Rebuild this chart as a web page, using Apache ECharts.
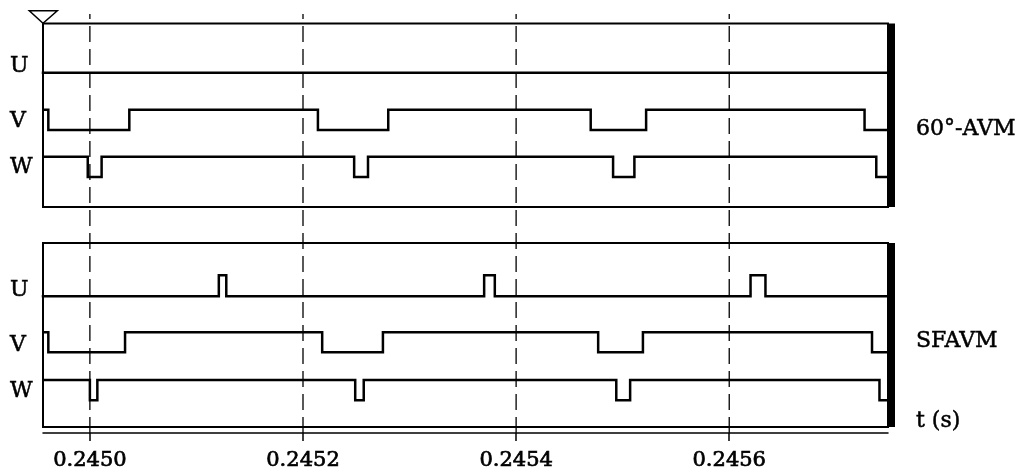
<!DOCTYPE html>
<html>
<head>
<meta charset="utf-8">
<script src="https://cdn.jsdelivr.net/npm/echarts@6/dist/echarts.min.js"></script>
<style>html,body{margin:0;padding:0;background:#fff}#c{width:1019px;height:472px}</style>
</head>
<body>
<div id="c"></div>
<script>
// ---- data (time in s, logic level 0/1) ----
const tMin = 0.244956;
const tMax = 0.245749;
const tickValues = [0.2450, 0.2452, 0.2454, 0.2456];
const laneNames = ['U', 'V', 'W'];
const panelNames = ['60°-AVM', 'SFAVM'];
const axisName = 't (s)';

// 60°-AVM
const avmU = [[0.244956,0],[0.245749,0]];
const avmV = [[0.244958,1],[0.244961,0],[0.245037,1],[0.245214,0],[0.245280,1],[0.245470,0],[0.245522,1],[0.245727,0],[0.245749,0]];
const avmW = [[0.244958,1],[0.244998,0],[0.245011,1],[0.245248,0],[0.245261,1],[0.245491,0],[0.245511,1],[0.245738,0],[0.245749,0]];
// SFAVM
const sfU = [[0.244956,0],[0.245121,1],[0.245128,0],[0.245370,1],[0.245380,0],[0.245620,1],[0.245634,0],[0.245749,0]];
const sfV = [[0.244958,1],[0.244961,0],[0.245033,1],[0.245218,0],[0.245275,1],[0.245477,0],[0.245519,1],[0.245734,0],[0.245749,0]];
const sfW = [[0.244958,1],[0.245000,0],[0.245007,1],[0.245249,0],[0.245257,1],[0.245494,0],[0.245507,1],[0.245741,0],[0.245749,0]];

// ---- layout ----
const CW = 1019, CH = 472;
const L = 43, R = 888;
const FONT = 'DejaVu Serif';
const FS = 22;
const frames = [{top: 23.5, height: 183.5}, {top: 243, height: 184}];
const lanes = [
  {top: 52.5, height: 20.3}, {top: 109.7, height: 20.3}, {top: 156.7, height: 20.3},
  {top: 275.3, height: 21}, {top: 332.3, height: 20}, {top: 380, height: 20.3}
];
const laneLabelY = [66, 121, 167, 290, 345, 391];
const signals = [avmU, avmV, avmW, sfU, sfV, sfW];

const grid = [], xAxis = [], yAxis = [], series = [];
// 0: background grid with axis + dashed lines
grid.push({left: L, right: CW - R, top: 14, bottom: CH - 433, show: false});
xAxis.push({
  gridIndex: 0, type: 'value', min: tMin, max: tMax, position: 'bottom',
  axisLine: {show: true, onZero: false, lineStyle: {color: '#000', width: 1.5}},
  axisTick: {show: true, length: 8, customValues: tickValues, lineStyle: {color: '#000', width: 1.5}},
  axisLabel: {show: true, customValues: tickValues, margin: 17, color: '#000', fontFamily: FONT, fontSize: FS - 1,
    textBorderColor: '#000', textBorderWidth: 0.7,
    formatter: v => v.toFixed(4)},
  splitLine: {show: false}
});
yAxis.push({gridIndex: 0, type: 'value', min: 0, max: 1, show: false});
tickValues.forEach(v => {
  series.push({
    type: 'line', xAxisIndex: 0, yAxisIndex: 0, data: [[v, 0], [v, 1]], symbol: 'none',
    silent: true, z: 5, clip: false,
    lineStyle: {type: [16, 7], color: '#000', width: 1.3}
  });
});
// frames
frames.forEach(f => {
  const gi = grid.length;
  grid.push({left: L, right: CW - R, top: f.top, height: f.height, show: true, borderColor: '#000', borderWidth: 2, backgroundColor: 'transparent'});
  xAxis.push({gridIndex: gi, type: 'value', min: tMin, max: tMax, show: false});
  yAxis.push({gridIndex: gi, type: 'value', min: 0, max: 1, show: false});
});
// lanes
lanes.forEach((ln, i) => {
  const gi = grid.length;
  grid.push({left: L, right: CW - R, top: ln.top, height: ln.height, show: false});
  xAxis.push({gridIndex: gi, type: 'value', min: tMin, max: tMax, show: false});
  yAxis.push({gridIndex: gi, type: 'value', min: 0, max: 1, show: false});
  series.push({
    type: 'line', xAxisIndex: gi, yAxisIndex: gi, data: signals[i], step: 'end',
    symbol: 'none', clip: false, silent: true, z: 3,
    lineStyle: {color: '#000', width: 2.5, join: 'miter', cap: 'square'}
  });
});

const textStyle = {fontFamily: FONT, fontSize: FS, fill: '#000', stroke: '#000', lineWidth: 0.5};
const graphic = [];
laneLabelY.forEach((y, i) => {
  graphic.push({type: 'text', x: 10, y: y, style: Object.assign({text: laneNames[i % 3], textVerticalAlign: 'middle', textAlign: 'left'}, textStyle)});
});
graphic.push({type: 'text', x: 916, y: 129, style: Object.assign({text: panelNames[0], textVerticalAlign: 'middle'}, textStyle)});
graphic.push({type: 'text', x: 916, y: 341, style: Object.assign({text: panelNames[1], textVerticalAlign: 'middle'}, textStyle)});
graphic.push({type: 'text', x: 916, y: 421, style: Object.assign({text: axisName, textVerticalAlign: 'middle'}, textStyle)});
frames.forEach(f => {
  graphic.push({type: 'rect', shape: {x: R, y: f.top, width: 7, height: f.height}, style: {fill: '#000'}, z: 10});
});
graphic.push({type: 'polygon', shape: {points: [[29.3, 10.7], [57.3, 10.7], [L, 23.3]]}, style: {fill: '#fff', stroke: '#000', lineWidth: 1.5}, z: 10});

const chart = echarts.init(document.getElementById('c'), null, {renderer: 'canvas'});
chart.setOption({
  animation: false,
  backgroundColor: '#fff',
  grid, xAxis, yAxis, series, graphic
});
</script>
</body>
</html>
